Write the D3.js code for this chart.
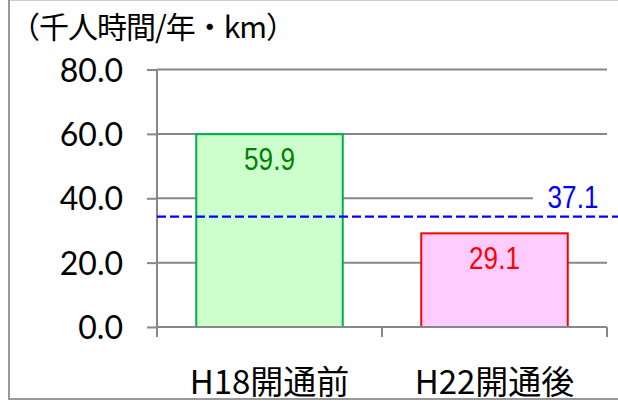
<!DOCTYPE html>
<html><head><meta charset="utf-8">
<script src="https://cdn.jsdelivr.net/npm/d3@7"></script>
<style>body{margin:0;background:#fff}svg{display:block}</style>
</head><body>
<script>
const categories = ["H18開通前", "H22開通後"];
const values = [59.9, 29.1];
const valueLabels = ["59.9", "29.1"];
const yTicks = [0, 20, 40, 60, 80];
const yTickLabels = ["0.0", "20.0", "40.0", "60.0", "80.0"];
const refLineValue = 34.3;
const refLabel = "37.1";
const unitLabel = "（千人時間/年・km）";

const W = 618, H = 406;
const svg = d3.select("body").append("svg").attr("width", W).attr("height", H);

// outer frame
svg.append("rect").attr("x", 9).attr("y", -0.5).attr("width", 640).attr("height", 399.5)
  .attr("fill", "none").attr("stroke", "#999").attr("stroke-width", 2);

const x0 = 157, x1 = 607, yTop = 69.5, yBot = 327;
const x = d3.scaleBand().domain(categories).range([x0, x1]).paddingInner(0.34).paddingOuter(0.17);
const xb = d3.scaleBand().domain(categories).range([x0, x1]);
const y = d3.scaleLinear().domain([0, 80]).range([yBot, yTop]);

const gray = "#878787";
// gridlines
svg.append("g").selectAll("line").data(yTicks.filter(d => d > 0)).join("line")
  .attr("x1", x0).attr("x2", x1).attr("y1", d => y(d)).attr("y2", d => y(d))
  .attr("stroke", gray).attr("stroke-width", 2);

// bars
const fills = ["#ccffcc", "#ffccff"];
const strokes = ["#00b050", "#ff0000"];
const labelColors = ["#008000", "#ff0000"];
svg.append("g").selectAll("rect").data(values).join("rect")
  .attr("x", (d, i) => x(categories[i]) + 1)
  .attr("y", d => y(d))
  .attr("width", x.bandwidth() - 2)
  .attr("height", d => yBot - y(d))
  .attr("fill", (d, i) => fills[i])
  .attr("stroke", (d, i) => strokes[i]).attr("stroke-width", 2);

// y axis
const yAxis = d3.axisLeft(y).tickValues(yTicks).tickFormat((d, i) => yTickLabels[i]).tickSize(10).tickPadding(24);
const gy = svg.append("g").attr("transform", `translate(${x0},0)`).call(yAxis);
gy.select(".domain").attr("stroke", gray).attr("stroke-width", 2).attr("d", `M0,${yTop}V${yBot + 8}`);
gy.selectAll(".tick line").attr("stroke", gray).attr("stroke-width", 2);
gy.selectAll(".tick text").attr("font-family", "Lato, 'Open Sans', sans-serif").attr("font-size", 32).attr("fill", "#000").attr("dy", "0.36em");

// x axis
const xAxis = d3.axisBottom(xb).tickSize(0).tickPadding(44);
const gx = svg.append("g").attr("transform", `translate(0,${yBot})`).call(xAxis);
gx.select(".domain").attr("stroke", gray).attr("stroke-width", 2).attr("d", `M${x0},0H${x1}`);
gx.selectAll(".tick text").attr("font-family", "'Noto Sans CJK JP', sans-serif").attr("font-size", 33).attr("fill", "#000");
// category separators
svg.append("g").selectAll("line").data([x0, ...categories.map(c => xb(c) + xb.bandwidth())]).join("line")
  .attr("x1", d => d).attr("x2", d => d).attr("y1", yBot).attr("y2", yBot + 10)
  .attr("stroke", gray).attr("stroke-width", 2);

// value labels
svg.append("g").selectAll("text").data(values).join("text")
  .attr("transform", (d, i) => `translate(${x(categories[i]) + x.bandwidth() / 2},${y(d) + 36}) scale(0.9,1.1)`)
  .attr("text-anchor", "middle")
  .attr("font-family", "'Liberation Sans', Arial, sans-serif").attr("font-size", 29)
  .attr("fill", (d, i) => labelColors[i]).text((d, i) => valueLabels[i]);

// reference line label background + label
svg.append("rect").attr("x", 533).attr("y", 186).attr("width", 74).attr("height", 24).attr("fill", "#fff");
svg.append("text")
  .attr("transform", `translate(573,${y(refLineValue) - 9}) scale(0.9,1.1)`)
  .attr("text-anchor", "middle")
  .attr("font-family", "'Liberation Sans', Arial, sans-serif").attr("font-size", 29)
  .attr("fill", "#0000ff").text(refLabel);

// reference dashed line
svg.append("line").attr("x1", x0).attr("x2", W).attr("y1", y(refLineValue)).attr("y2", y(refLineValue))
  .attr("stroke", "#0000ff").attr("stroke-width", 2.2).attr("stroke-dasharray", "9,4");

// unit label
svg.append("text").attr("x", 10).attr("y", 38)
  .attr("font-family", "'Noto Sans CJK JP', sans-serif").attr("font-size", 30).attr("fill", "#000")
  .attr("letter-spacing", -1)
  .text(unitLabel);
</script>
</body></html>
